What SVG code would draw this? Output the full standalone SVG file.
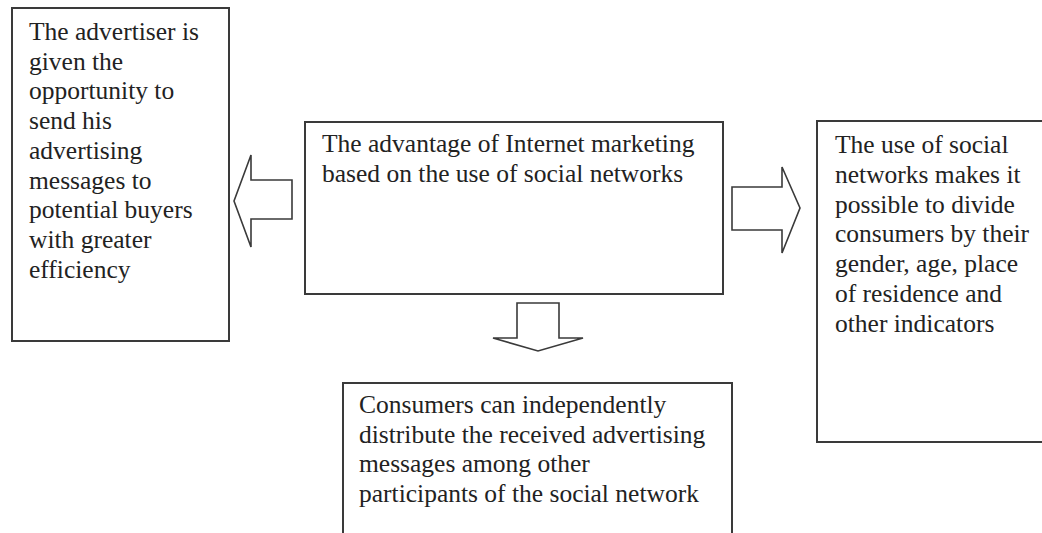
<svg xmlns="http://www.w3.org/2000/svg" width="1042" height="533" viewBox="0 0 1042 533">
<style>
.box{fill:#fff;stroke:#3a3a3a;stroke-width:2}
.arr{fill:#fff;stroke:#3a3a3a;stroke-width:1.6;stroke-linejoin:miter}
text{font-family:"Liberation Serif","Times New Roman",serif;font-size:25.5px;fill:#222}
</style>
<rect width="1042" height="533" fill="#fff"/>
<g id="node-left">
<rect class="box" x="12" y="8" width="217" height="333"/>
<text x="29" y="40">The advertiser is</text>
<text x="29" y="69.7">given the</text>
<text x="29" y="99.4">opportunity to</text>
<text x="29" y="129.1">send his</text>
<text x="29" y="158.8">advertising</text>
<text x="29" y="188.5">messages to</text>
<text x="29" y="218.2">potential buyers</text>
<text x="29" y="247.9">with greater</text>
<text x="29" y="277.6">efficiency</text>
</g>
<g id="node-center">
<rect class="box" x="305" y="122" width="418" height="172"/>
<text x="322" y="152">The advantage of Internet marketing</text>
<text x="322" y="182">based on the use of social networks</text>
</g>
<g id="node-right">
<rect class="box" x="817" y="121" width="229" height="321"/>
<text x="835" y="153">The use of social</text>
<text x="835" y="182.8">networks makes it</text>
<text x="835" y="212.6">possible to divide</text>
<text x="835" y="242.4">consumers by their</text>
<text x="835" y="272.2">gender, age, place</text>
<text x="835" y="302">of residence and</text>
<text x="835" y="331.8">other indicators</text>
</g>
<g id="node-bottom">
<rect class="box" x="343" y="383" width="389" height="160"/>
<text x="359" y="413">Consumers can independently</text>
<text x="359" y="443">distribute the received advertising</text>
<text x="359" y="472">messages among other</text>
<text x="359" y="502">participants of the social network</text>
</g>
<g id="connectors">
<polygon class="arr" points="234,201 251,155 251,180 292,180 292,219 251,219 251,247"/>
<polygon class="arr" points="732,187 782,187 782,167 800,208 782,253 782,230 732,230"/>
<polygon class="arr" points="517,303 559,303 559,338 583,338 538,351 493,338 517,338"/>
</g>
</svg>
